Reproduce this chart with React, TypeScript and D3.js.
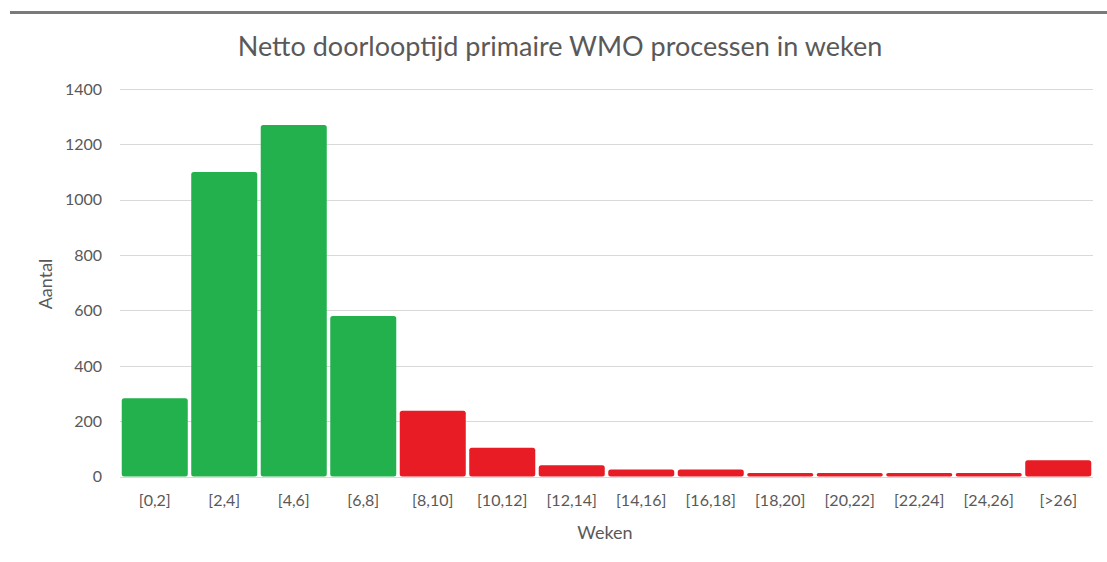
import React from "react";
import * as d3 from "d3";

const categories = ["[0,2]", "[2,4]", "[4,6]", "[6,8]", "[8,10]", "[10,12]", "[12,14]", "[14,16]", "[16,18]", "[18,20]", "[20,22]", "[22,24]", "[24,26]", "[>26]"];
const values = [283, 1100, 1270, 580, 238, 104, 41, 25, 25, 13, 13, 13, 13, 59];
const colorGroups = ["ok", "ok", "ok", "ok", "late", "late", "late", "late", "late", "late", "late", "late", "late", "late"];
const yTicks = [0, 200, 400, 600, 800, 1000, 1200, 1400];
const title = "Netto doorlooptijd primaire WMO processen in weken";
const xTitle = "Weken";
const yTitle = "Aantal";

const W = 1107;
const H = 562;
const FONT = "Lato, 'Open Sans', sans-serif";
const TEXT = "#595959";

export default function App() {
  const x = d3.scaleBand<string>().domain(categories).range([120, 1093]).paddingInner(0.05).paddingOuter(0.025);
  const y = d3.scaleLinear().domain([0, 1400]).range([476.5, 89]);
  const color = (g: string) => (g === "ok" ? "#22B14C" : "#E81C24");
  return (
    <svg width={W} height={H} style={{ position: "absolute", left: 0, top: 0, background: "#fff" }}>
      <rect x={0} y={0} width={W} height={H} fill="#fff" />
      <line x1={10} x2={W} y1={12.5} y2={12.5} stroke="#7a7a7a" strokeWidth={3} />
      <text x={560} y={56} textAnchor="middle" fontFamily={FONT} fontSize={27} fill={TEXT}>{title}</text>
      {yTicks.map((t) => (
        <g key={t}>
          <line x1={120} x2={1093} y1={Math.round(y(t)) + 0.5} y2={Math.round(y(t)) + 0.5} stroke="#d9d9d9" strokeWidth={1} />
          <text x={102} y={y(t)} dy="0.36em" textAnchor="end" fontFamily={FONT} fontSize={16} fill={TEXT}>{t}</text>
        </g>
      ))}
      {categories.map((c, i) => {
        const v = values[i];
        const top = y(v);
        const h = y(0) - top;
        return (
          <rect key={c} x={x(c)} y={top} width={x.bandwidth()} height={h} rx={Math.min(2.5, h / 2)} fill={color(colorGroups[i])} />
        );
      })}
      {categories.map((c) => (
        <text key={c} x={(x(c) as number) + x.bandwidth() / 2} y={506} textAnchor="middle" fontFamily={FONT} fontSize={16} fill={TEXT}>{c}</text>
      ))}
      <text x={605} y={539} textAnchor="middle" fontFamily={FONT} fontSize={18} fill={TEXT}>{xTitle}</text>
      <text transform={`translate(52,284) rotate(-90)`} textAnchor="middle" fontFamily={FONT} fontSize={18} fill={TEXT}>{yTitle}</text>
    </svg>
  );
}
